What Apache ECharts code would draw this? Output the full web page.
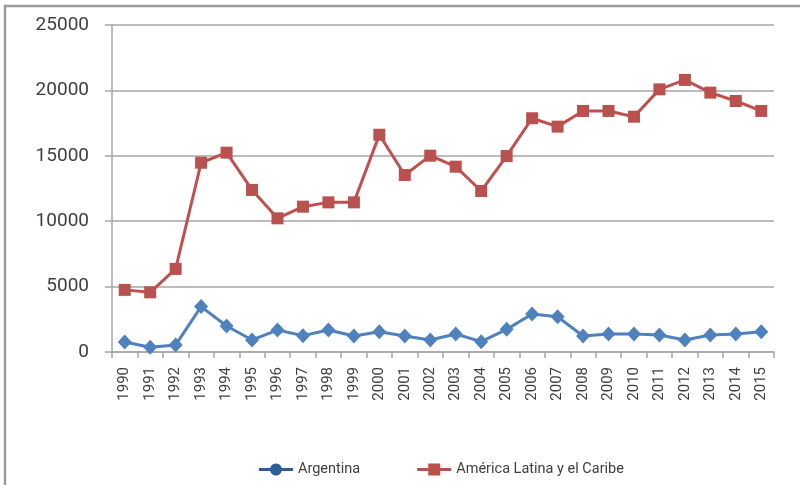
<!DOCTYPE html>
<html>
<head>
<meta charset="utf-8">
<script src="https://cdn.jsdelivr.net/npm/echarts@6/dist/echarts.min.js"></script>
<style>
  html, body { margin: 0; padding: 0; background: #fff; }
  #chart { width: 801px; height: 485px; }
</style>
</head>
<body>
<div id="chart"></div>
<script>
var years = ["1990", "1991", "1992", "1993", "1994", "1995", "1996", "1997", "1998", "1999",
  "2000", "2001", "2002", "2003", "2004", "2005", "2006", "2007", "2008", "2009",
  "2010", "2011", "2012", "2013", "2014", "2015"];
var argentina = [760, 360, 540, 3470, 1990, 920, 1680, 1250, 1680, 1220,
  1550, 1220, 920, 1380, 790, 1730, 2900, 2700, 1220, 1380,
  1380, 1300, 920, 1300, 1380, 1550];
var americaLatina = [4750, 4560, 6350, 14470, 15240, 12390, 10220, 11110, 11440, 11440,
  16610, 13530, 15010, 14170, 12310, 14980, 17870, 17230, 18430, 18430,
  17990, 20080, 20800, 19830, 19190, 18430];
var seriesNames = ["Argentina", "América Latina y el Caribe"];

var labelColor = "#404040";
var gridColor = "#a6a6a6";

// legend icons: line with a marker in the middle
var iconCircle = "path://M0 4.5H11.19A6 6 0 0 1 22.81 4.5H34V7.5H22.81A6 6 0 0 1 11.19 7.5H0Z";
var iconSquare = "path://M0 4.5H11V0H23V4.5H34V7.5H23V12H11V7.5H0Z";

var myChart = echarts.init(document.getElementById("chart"));
var option = {
  backgroundColor: "#fff",
  animation: false,
  grid: {
    left: 112,
    right: 27,
    top: 25,
    bottom: 133
  },
  legend: {
    left: 254,
    top: 457,
    itemWidth: 34,
    itemHeight: 12,
    itemGap: 57,
    textStyle: {
      color: labelColor,
      fontSize: 14.5,
      fontFamily: "Roboto"
    },
    data: [
      { name: seriesNames[0], icon: iconCircle, itemStyle: { color: "#2f5d98" } },
      { name: seriesNames[1], icon: iconSquare, itemStyle: { color: "#b9514e" } }
    ]
  },
  xAxis: {
    type: "category",
    data: years,
    boundaryGap: true,
    axisLine: { lineStyle: { color: gridColor, width: 1.5 } },
    axisTick: { show: true, length: 6, lineStyle: { color: gridColor, width: 1.5 } },
    axisLabel: {
      rotate: 90,
      margin: 15,
      color: labelColor,
      fontSize: 15,
      fontFamily: "Roboto",
      interval: 0
    },
    splitLine: { show: false }
  },
  yAxis: {
    type: "value",
    min: 0,
    max: 25000,
    interval: 5000,
    axisLine: { show: true, lineStyle: { color: gridColor, width: 1.5 } },
    axisTick: { show: true, length: 7, lineStyle: { color: gridColor, width: 1.5 } },
    axisLabel: {
      margin: 23,
      color: labelColor,
      fontSize: 19,
      fontFamily: "Roboto",
      formatter: function (v) { return String(v); }
    },
    splitLine: { lineStyle: { color: gridColor, width: 1.5 } }
  },
  graphic: [
    {
      type: "polyline",
      shape: { points: [[5, 485], [5, 6], [800, 6]] },
      style: { stroke: "#9a9a9a", lineWidth: 2.5, fill: null }
    }
  ],
  series: [
    {
      name: seriesNames[0],
      type: "line",
      data: argentina,
      symbol: "diamond",
      symbolSize: [14, 15],
      lineStyle: { color: "#4f81bd", width: 3 },
      itemStyle: { color: "#4f81bd" }
    },
    {
      name: seriesNames[1],
      type: "line",
      data: americaLatina,
      symbol: "rect",
      symbolSize: 12,
      lineStyle: { color: "#c0504d", width: 3 },
      itemStyle: { color: "#b9514e" }
    }
  ]
};
myChart.setOption(option);
</script>
</body>
</html>
